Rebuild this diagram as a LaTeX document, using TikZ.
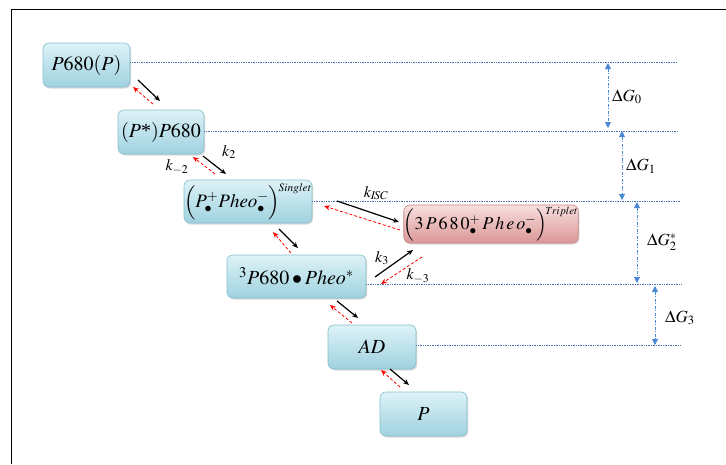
\documentclass[tikz,border=0pt]{standalone}
\usepackage{mathptmx}
\usepackage{fontspec}
\setmainfont{Liberation Serif}
\usetikzlibrary{shadows,arrows.meta}
\definecolor{boxtop}{HTML}{DDF2F7}
\definecolor{boxbot}{HTML}{9FD2DF}
\definecolor{boxedge}{HTML}{86BFCF}
\definecolor{redtop}{HTML}{F8DEDE}
\definecolor{redbot}{HTML}{DA9696}
\definecolor{rededge}{HTML}{C98484}
\definecolor{lvlblue}{HTML}{4A6FB5}
\definecolor{dgblue}{HTML}{4A88D4}
\tikzset{
  statebox/.style={rounded corners=6pt, draw=boxedge, line width=0.6pt,
    top color=boxtop, bottom color=boxbot, inner sep=0pt,
    drop shadow={shadow xshift=1.2pt, shadow yshift=-1.5pt, opacity=0.3},
    font=\fontsize{20}{23}\selectfont},
  tripbox/.style={statebox, draw=rededge, top color=redtop, bottom color=redbot},
  lvl/.style={lvlblue, densely dotted, line width=0.7pt},
  dgarrow/.style={dgblue, dash pattern=on 3pt off 1.5pt on 1pt off 1.5pt, line width=0.9pt,
    {Triangle[length=6pt,width=6pt]}-{Triangle[length=6pt,width=6pt]}},
  fwd/.style={black, line width=1.2pt, -{Stealth[length=6pt,width=5pt]}},
  bwd/.style={red, densely dashed, line width=0.8pt, -{Stealth[length=6pt,width=5pt]}},
  klabel/.style={font=\fontsize{16}{18}\selectfont, inner sep=0pt},
  dglabel/.style={font=\fontsize{17}{19}\selectfont, inner sep=0pt, anchor=west},
}
\begin{document}
\begin{tikzpicture}[x=1pt,y=-1pt]
\useasboundingbox (0,0) rectangle (726,464);
\fill[white] (0,0) rectangle (726,464);
\draw[line width=1.8pt] (726,9.5) -- (11.5,9.5) -- (11.5,464);

% states
\node[statebox, minimum width=87pt, minimum height=44pt] (A) at (86.5,65) {$P680(P)$};
\node[statebox, minimum width=86pt, minimum height=44pt] (B) at (161,132) {$(P$\textup{*}$)P680$};
\node[statebox, minimum width=122pt, minimum height=43pt, font=\fontsize{19}{22}\selectfont] (C) at (248,201.5)
  {$\Bigl(P^{+}_{\bullet}Pheo^{-}_{\bullet}\Bigr)^{\!\scriptscriptstyle Singlet}$};
\node[tripbox, minimum width=172pt, minimum height=38pt, font=\fontsize{18}{21}\selectfont] (T) at (491,224)
  {$\Bigl(3\,P\,6\,8\,0^{+}_{\bullet}\,P\,h\,e\,o^{-}_{\bullet}\Bigr)^{\!\scriptscriptstyle Triplet}$};
\node[statebox, minimum width=139pt, minimum height=43pt] (D) at (296.5,276.5) {$^{3}P680\bullet Pheo^{*}$};
\node[statebox, minimum width=88pt, minimum height=44pt] (E) at (372,347) {$AD$};
\node[statebox, minimum width=87pt, minimum height=44pt] (F) at (423.5,414) {$P$};

% energy levels
\coordinate (l0) at (677,62);
\coordinate (l1) at (677,131);
\coordinate (l2) at (680,201);
\coordinate (l3) at (682,284);
\coordinate (l4) at (680,345);
\draw[lvl] (A.east |- l0) -- (l0);
\draw[lvl] (B.east |- l1) -- (l1);
\draw[lvl] (C.east |- l2) -- (l2);
\draw[lvl] (D.east |- l3) -- (l3);
\draw[lvl] (E.east |- l4) -- (l4);

% Delta G arrows
\coordinate (g0a) at (608,63);  \coordinate (g0b) at (608,128);
\coordinate (g1a) at (622,131); \coordinate (g1b) at (622,200);
\coordinate (g2a) at (637,202); \coordinate (g2b) at (637,283);
\coordinate (g3a) at (655,286); \coordinate (g3b) at (655,345);
\draw[dgarrow] (g0a) -- (g0b);
\draw[dgarrow] (g1a) -- (g1b);
\draw[dgarrow] (g2a) -- (g2b);
\draw[dgarrow] (g3a) -- (g3b);
\node[dglabel] (dg0) at (612,97) {$\Delta G_{0}$};
\node[dglabel] (dg1) at (626,166) {$\Delta G_{1}$};
\node[dglabel] (dg2) at (647,242) {$\Delta G_{2}^{*}$};
\node[dglabel] (dg3) at (665,318) {$\Delta G_{3}$};

% reaction arrows
\coordinate (a1s) at (138,80);  \coordinate (a1e) at (160,101);
\coordinate (r1s) at (153,104); \coordinate (r1e) at (133,87);
\draw[fwd] (a1s) -- (a1e);
\draw[bwd] (r1s) -- (r1e);

\coordinate (a2s) at (203,156); \coordinate (a2e) at (226,174);
\coordinate (r2s) at (215,174); \coordinate (r2e) at (193,157);
\draw[fwd] (a2s) -- (a2e);
\draw[bwd] (r2s) -- (r2e);
\node[klabel] (k2) at (229,152) {$k_{2}$};
\node[klabel] (km2) at (177,167) {$k_{-2}$};

\coordinate (a3s) at (337,201); \coordinate (a3e) at (399,222);
\coordinate (r3s) at (400,230); \coordinate (r3e) at (324,206);
\draw[fwd] (a3s) -- (a3e);
\draw[bwd] (r3s) -- (r3e);
\node[klabel] (kisc) at (376,193) {$k_{I\!SC}$};

\coordinate (a4s) at (279,229); \coordinate (a4e) at (298,248);
\coordinate (r4s) at (291,253); \coordinate (r4e) at (273,232);
\draw[fwd] (a4s) -- (a4e);
\draw[bwd] (r4s) -- (r4e);

\coordinate (a5s) at (375,277); \coordinate (a5e) at (413,250);
\coordinate (r5s) at (422,257); \coordinate (r5e) at (381,284);
\draw[fwd] (a5s) -- (a5e);
\draw[bwd] (r5s) -- (r5e);
\node[klabel] (k3) at (382,258) {$k_{3}$};
\node[klabel] (km3) at (418,276) {$k_{-3}$};

\coordinate (a6s) at (337,301); \coordinate (a6e) at (358,318);
\coordinate (r6s) at (352,323); \coordinate (r6e) at (330,305);
\draw[fwd] (a6s) -- (a6e);
\draw[bwd] (r6s) -- (r6e);

\coordinate (a7s) at (390,369); \coordinate (a7e) at (409,385);
\coordinate (r7s) at (400,387); \coordinate (r7e) at (381,370);
\draw[fwd] (a7s) -- (a7e);
\draw[bwd] (r7s) -- (r7e);
\end{tikzpicture}
\end{document}
